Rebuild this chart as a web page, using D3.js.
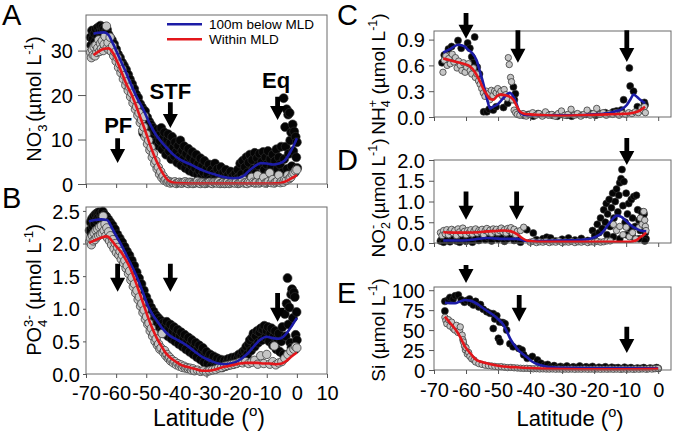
<!DOCTYPE html>
<html><head><meta charset="utf-8">
<script src="https://cdn.jsdelivr.net/npm/d3@7"></script>
<style>
body{margin:0;background:#fff}
svg{display:block}
text{font-family:"Liberation Sans",Arial,Helvetica,sans-serif}
</style>
</head><body>
<svg id="chart" width="677" height="437"></svg>
<script>
// ---------------- DATA ----------------
const latTicksAB = [-70,-60,-50,-40,-30,-20,-10,0,10];
const latTicksCDE = [-70,-60,-50,-40,-30,-20,-10,0];
const aYTicks = [0,10,20,30];
const bYTicks = [0,0.5,1.0,1.5,2.0,2.5];
const cYTicks = [0,0.3,0.6,0.9];
const dYTicks = [0,0.5,1.0,1.5,2.0];
const eYTicks = [0,25,50,75,100];
const legendLabels = ["100m below MLD","Within MLD"];
const frontLabels = [["PF",-59.3,11.5],["STF",-42,19.1],["Eq",-6.9,21.6]];

// Panel A: NO3-
const aBelowPts = [[-68.5,33],[-68.3,31.2],[-68,34.5],[-67.8,32.6],[-67.5,30.8],[-67.2,33.8],[-67,32],[-66.7,34.8],[-66.5,31],[-66.2,33.3],[-66,35.2],[-65.7,32.4],[-65.5,34.2],[-65.2,35.6],[-65,33],[-64.7,34.6],[-64.5,35.3],[-64.2,33.6],[-64,34.9],[-63.7,32.8],[-63.5,34.2],[-63.2,33.1],[-63,34.7],[-62.7,32.3],[-62.5,33.6],[-62.2,31.8],[-62,32.9],
[-61.7,31.2],[-61.4,32.4],[-61,30.6],[-60.7,31.5],[-60.4,29.4],[-60,30.3],[-59.7,28.2],[-59.4,29.2],[-59,27.4],[-58.7,28.4],[-58.4,26.2],[-58,27.3],[-57.7,25.4],[-57.4,26.6],[-57,24.6],[-56.7,25.7],[-56.4,23.3],[-56,24.6],[-55.7,22.2],[-55.4,23.5],[-55,21.4],
[-54.7,22.5],[-54.4,20.6],[-54,21.4],[-53.7,19.2],[-53.4,20.2],[-53,18.3],[-52.7,19.4],[-52.4,17.2],[-52,18.0],[-51.7,16.1],[-51.4,17.2],[-51,11.4],[-50.7,15.3],[-50.4,16.4],[-50,14.2],[-49.7,15.0],[-49.4,12.9],[-49,14.0],[-48.7,12.0],[-48.4,13.3],[-48,11.2],
[-47.7,12.6],[-47.4,10.4],[-47,11.8],[-46.7,9.4],[-46.4,12.2],[-46,8.6],[-45.7,10.9],[-45.4,9.7],[-45,12.6],[-44.7,7.8],[-44.4,10.3],[-44,11.6],[-43.7,8.7],[-43.4,6.6],[-43,10.0],[-42.7,11.2],[-42.4,7.4],[-42,9.2],[-41.7,5.6],[-41.4,10.6],[-41,8.2],[-40.7,6.3],[-40.4,9.4],[-40,7.2],[-39.7,4.8],[-39.4,8.6],[-39,6.2],[-38.7,9.8],[-38.4,4.2],[-38,7.5],[-37.7,5.6],[-37.4,8.5],[-37,3.6],[-36.7,6.8],[-36.4,4.8],[-36,7.9],[-35.7,3.0],[-35.4,6.0],[-35,4.2],[-34.7,7.2],[-34.4,2.6],[-34,5.3],[-33.7,3.6],[-33.4,6.6],[-33,2.2],[-32.7,4.6],[-32.4,3.0],[-32,5.8],[-31.7,1.6],[-31.4,4.0],[-31,2.6],[-30.7,5.2],[-30.4,1.2],[-30,3.4],
[-29.6,2.2],[-29.2,4.4],[-28.8,1.0],[-28.4,3.2],[-28,0.5],[-27.6,2.4],[-27.2,4.6],[-26.8,1.5],[-26.4,3.4],[-26,0.8],[-25.6,2.2],[-25.2,3.8],[-24.8,0.6],[-24.4,2.6],[-24,1.4],[-23.6,3.2],[-23.2,0.4],[-22.8,2.0],[-22.4,1.0],[-22,2.8],[-21.6,0.5],[-21.2,1.8],[-20.8,0.8],[-20.4,2.4],[-20,1.2],
[-19.6,3.2],[-19.2,1.6],[-18.8,4.6],[-18.4,2.2],[-18,5.2],[-17.6,1.2],[-17.2,3.8],[-16.8,6.0],[-16.4,2.6],[-16,4.8],[-15.6,6.6],[-15.2,1.8],[-14.8,5.4],[-14.4,3.4],[-14,7.0],[-13.6,2.4],[-13.2,5.8],[-12.8,4.2],[-12.4,6.8],[-12,1.6],[-11.6,5.0],[-11.2,7.2],[-10.8,3.2],[-10.4,6.0],[-10,4.4],[-9.6,7.4],[-9.2,2.6],[-8.8,5.6],[-8.4,3.8],[-8,6.6],[-7.6,2.0],[-7.2,5.2],[-6.8,7.8],[-6.4,3.4],[-6,6.0],[-5.6,4.4],[-5.2,8.4],[-4.8,2.6],
[-4.4,19.3],[-4.2,5.6],[-3.9,12.8],[-3.7,8.4],[-3.4,16.8],[-3.2,3.4],[-2.9,15.6],[-2.7,6.8],[-2.4,16.0],[-2.2,9.8],[-1.9,11.6],[-1.7,4.0],[-1.4,13.4],[-1.2,7.4],[-0.9,11.8],[-0.7,2.6],[-0.4,10.6],[-0.2,6.0],[0,9.4],[0.1,3.6]];
const aMldPts = [[-68.5,29.6],[-68.2,28.4],[-67.9,30.2],[-67.6,29.0],[-67.3,30.8],[-67,28.8],[-66.7,31.2],[-66.4,29.6],[-66.1,30.6],[-65.8,32.4],[-65.5,29.8],[-65.2,31.6],[-64.9,30.4],[-64.6,32.2],[-64.3,30.0],[-64,31.4],[-63.7,33.2],[-63.2,35.5],[-63,30.6],[-62.7,31.8],[-62.4,30.2],[-62,33.0],[-61.6,29.8],[-61.2,31.0],[-60.8,28.8],[-60.4,29.6],[-60,27.6],[-59.6,28.4],[-59.2,26.2],[-58.8,27.0],[-58.4,25.0],[-58,25.8],[-57.6,23.6],[-57.2,24.4],[-56.8,22.2],[-56.4,23.0],[-56,21.0],[-55.6,21.8],[-55.2,19.6],[-54.8,20.4],[-54.4,18.2],[-54,19.0],[-53.6,16.8],[-53.2,17.4],[-52.8,15.4],[-52.4,16.0],[-52,13.8],[-51.6,14.4],[-51.2,12.0],[-50.8,12.8],[-50.6,15.2],[-50.4,10.6],[-50,11.2],[-49.6,9.0],[-49.2,9.8],[-48.8,7.6],[-48.4,8.2],[-48,6.0],[-47.6,6.8],[-47.2,4.6],[-46.8,5.2],[-46.4,3.4],[-46,3.8],[-45.6,2.2],[-45.2,2.8],[-44.8,1.4],[-44.4,1.8],[-44,0.8],[-43.5,1.0],[-43,0.4],[-42.5,0.6],[-42,0.2],[-41.5,0.4],
[-41,0.3],[-40.5,0.5],[-40,0.1],[-39.5,0.3],[-39,0.4],[-38.5,0.2],[-38,0.2],[-37.5,0.4],[-37,0.5],[-36.5,0.2],[-36,0.1],[-35.5,0.4],[-35,0.3],[-34.5,0.1],[-34,0.2],[-33.5,0.3],[-33,0.6],[-32.5,0.2],[-32,0.1],[-31.5,0.4],[-31,0.3],[-30.5,0.1],[-30,0.2],[-29.5,0.3],[-29,0.4],[-28.5,0.2],[-28,0.1],[-27.5,0.4],[-27,0.3],[-26.5,0.2],[-26,0.5],[-25.5,0.1],[-25,0.2],[-24.5,0.3],[-24,0.1],[-23.5,0.2],[-23,0.4],[-22.5,0.1],[-22,0.2],[-21.5,0.4],[-21,0.3],[-20.5,0.2],[-20,0.6],[-19.5,0.1],[-19,0.2],[-18.5,0.4],[-18,1.0],[-17.5,0.2],[-17,0.3],[-16.5,0.1],[-16,0.5],[-15.5,0.3],[-15,1.5],[-14.5,0.4],[-14,0.2],[-13.5,0.3],[-13,2.0],[-12.5,0.2],[-12,0.4],[-11.5,0.6],[-11,1.5],[-10.5,0.2],[-10,0.3],[-9.5,0.5],[-9,2.5],[-8.5,0.3],[-8,1.0],[-7.5,0.2],[-7,0.4],[-6.5,0.6],[-6,2.0],[-5.5,0.3],[-5,0.6],[-4.5,0.4],[-4,1.0],[-3.5,0.8],[-3,2.0],[-2.5,1.2],[-2,1.5],[-1.5,2.2],[-1,2.5],[-0.5,3.0],[0,3.2]];
const aBlueLine = [[-67.5,33.8],[-66,34.0],[-64,34.1],[-62.5,33.5],[-61,31.5],[-59,28.5],[-57,25.5],[-55,22.3],[-53,19.3],[-51,16.8],[-49,13.8],[-47,11.3],[-45,9.5],[-43,8.0],[-41,6.6],[-39,5.6],[-37,4.9],[-35,4.3],[-33,3.6],[-31,3.0],[-29,2.5],[-27,2.1],[-25,1.7],[-23,1.4],[-21,1.3],[-19,1.4],[-17.5,1.9],[-16,2.9],[-14,4.0],[-12,4.7],[-10,4.6],[-8,4.4],[-6,4.6],[-4,5.3],[-2.5,6.8],[-1,8.7],[0,10.3]];
const aRedLine = [[-67.5,29.0],[-66,29.7],[-64,30.4],[-62.5,30.5],[-61,29.4],[-59.5,27.3],[-58,24.8],[-56.5,22.3],[-55,20.3],[-53.5,17.8],[-52,15],[-50.5,12.3],[-49,9.3],[-47.5,6.6],[-46,4.3],[-44.5,2.4],[-43,1.0],[-41.5,0.4],[-40,0.2],[-35,0.1],[-30,0.1],[-25,0.1],[-20,0.1],[-15,0.1],[-10,0.1],[-7,0.15],[-5,0.3],[-3,0.8],[-1.5,1.4],[0,2.0]];
const aArrows = [[-59.5,10.3,4.7],[-42,18.4,12.6],[-6.4,19.6,14.4]];

// Panel B: PO4 3-
const bBelowPts = [[-68.8,2.20],[-68.5,2.33],[-68.2,2.12],[-68,2.38],[-67.7,2.26],[-67.4,2.42],[-67.1,2.30],[-66.8,2.45],[-66.5,2.36],[-66.2,2.47],[-65.9,2.40],[-65.6,2.48],[-65.3,2.38],[-65,2.46],[-64.7,2.41],[-64.4,2.49],[-64.1,2.36],[-63.8,2.44],[-63.5,2.32],[-63.2,2.41],[-62.9,2.28],[-62.6,2.37],[-62.3,2.25],[-62,2.33],
[-61.6,2.22],[-61.2,2.28],[-60.8,2.15],[-60.4,2.22],[-60,2.08],[-59.6,2.14],[-59.2,2.02],[-58.8,2.08],[-58.4,1.96],[-58,2.02],[-57.6,1.90],[-57.2,1.95],[-56.8,1.84],[-56.4,1.88],[-56,1.78],[-55.6,1.82],[-55.2,1.70],[-54.8,1.74],[-54.4,1.62],[-54,1.66],[-53.6,1.54],[-53.2,1.56],[-52.8,1.45],[-52.4,1.47],[-52,1.36],[-51.6,1.38],[-51.2,1.26],[-50.8,1.28],[-50.4,1.16],[-50,1.18],[-49.6,1.07],[-49.2,1.10],[-48.8,0.98],[-48.4,1.02],[-48,0.90],[-47.6,0.96],[-47.2,0.84],[-46.8,0.90],[-46.4,0.78],[-46,0.86],
[-45.6,0.72],[-45.2,0.82],[-44.8,0.66],[-44.4,0.78],[-44,0.62],[-43.6,0.74],[-43.2,0.80],[-42.8,0.58],[-42.4,0.70],[-42,0.76],[-41.6,0.54],[-41.2,0.66],[-40.8,0.72],[-40.4,0.50],[-40,0.62],[-39.6,0.68],[-39.2,0.46],[-38.8,0.58],[-38.4,0.64],[-38,0.42],[-37.6,0.54],[-37.2,0.60],[-36.8,0.38],[-36.4,0.50],[-36,0.56],[-35.6,0.34],[-35.2,0.46],[-34.8,0.52],[-34.4,0.30],[-34,0.42],[-33.6,0.48],[-33.2,0.26],[-32.8,0.38],[-32.4,0.44],[-32,0.22],[-31.6,0.34],[-31.2,0.40],[-30.8,0.18],[-30.4,0.30],[-30,0.34],[-29.6,0.16],[-29.2,0.26],[-28.8,0.30],[-28.4,0.12],[-28,0.22],[-27.6,0.27],[-27.2,0.10],[-26.8,0.20],[-26.4,0.24],[-26,0.12],[-25.6,0.18],[-25.2,0.22],[-24.8,0.10],[-24.4,0.17],[-24,0.21],[-23.6,0.12],[-23.2,0.18],[-22.8,0.23],[-22.4,0.14],[-22,0.20],[-21.6,0.25],[-21.2,0.15],[-20.8,0.21],[-20.4,0.26],[-20,0.17],[-19.6,0.24],[-19.2,0.30],[-18.8,0.20],
[-18.4,0.28],[-18,0.34],[-17.6,0.24],[-17.2,0.36],[-16.8,0.42],[-16.4,0.30],[-16,0.46],[-15.6,0.52],[-15.2,0.36],[-14.8,0.56],[-14.4,0.62],[-14,0.42],[-13.6,0.58],[-13.2,0.66],[-12.8,0.48],[-12.4,0.64],[-12,0.70],[-11.6,0.52],[-11.2,0.68],[-10.8,0.74],[-10.4,0.56],[-10,0.66],[-9.6,0.72],[-9.2,0.50],[-8.8,0.62],[-8.4,0.70],[-8,0.44],[-7.6,0.58],[-7.2,0.66],[-6.8,0.38],[-6.4,0.54],[-6,0.62],[-5.6,0.34],[-5.2,0.50],[-4.8,0.72],[-4.4,0.30],
[-4,0.92],[-3.7,0.58],[-3.4,1.08],[-3.1,1.47],[-2.8,0.76],[-2.5,1.02],[-2.2,0.48],[-1.9,1.22],[-1.6,1.30],[-1.3,0.86],[-1,1.25],[-0.7,1.18],[-0.4,0.60],[-0.1,0.95],[0,0.52],[-1.8,0.40],[-0.6,0.38]];
const bMldPts = [[-68.8,2.03],[-68.5,2.08],[-68.2,1.98],[-67.9,2.12],[-67.6,2.04],[-67.3,2.16],[-67,2.06],[-66.7,2.20],[-66.4,2.10],[-66.1,2.22],[-65.8,2.12],[-65.5,2.25],[-65.2,2.14],[-64.9,2.27],[-64.6,2.16],[-64.3,2.42],[-64,2.20],[-63.7,2.30],[-63.4,2.12],[-63.1,2.24],[-62.8,2.08],[-62.5,2.18],[-62.2,2.04],[-61.9,2.12],[-61.5,1.98],[-61.1,2.06],[-60.7,1.92],[-60.3,2.00],[-59.9,1.86],[-59.5,1.94],[-59.1,1.82],[-58.7,1.88],[-58.3,1.76],[-57.9,1.82],[-57.5,1.70],[-57.1,1.74],[-56.7,1.62],[-56.3,1.66],[-55.9,1.54],[-55.5,1.58],[-55.1,1.44],[-54.7,1.48],[-54.3,1.34],[-53.9,1.38],[-53.5,1.24],[-53.1,1.28],[-52.7,1.14],[-52.3,1.18],[-51.9,1.04],[-51.5,1.08],[-51.1,0.94],[-50.7,0.98],[-50.3,0.84],[-49.9,0.88],[-49.5,0.76],[-49.1,0.78],[-48.7,0.66],[-48.3,0.70],[-47.9,0.58],[-47.5,0.62],[-47.1,0.50],[-46.7,0.54],[-46.3,0.44],[-45.9,0.46],[-45.5,0.38],[-45.1,0.40],[-44.7,0.62],[-44.3,0.33],[-43.9,0.36],[-43.5,0.28],[-43.1,0.30],[-42.7,0.24],[-42.3,0.26],[-41.9,0.20],[-41.5,0.22],[-41,0.17],[-40.5,0.19],[-40,0.14],[-39.5,0.16],[-39,0.12],[-38.5,0.14],[-38,0.10],[-37.5,0.12],[-37,0.09],[-36.5,0.10],[-36,0.08],[-35.5,0.09],[-35,0.06],[-34.5,0.08],[-34,0.05],[-33,0.06],[-32,0.04],[-31,0.05],[-30,0.03],[-29,0.05],[-28,0.06],[-27,0.07],[-26,0.09],[-25,0.10],[-24,0.12],[-23,0.13],[-22,0.14],[-21,0.15],[-20,0.16],[-19,0.18],[-18,0.17],[-17,0.19],[-16,0.16],[-15,0.18],[-14,0.21],[-13,0.15],[-12,0.28],[-11,0.16],[-10,0.30],[-9,0.15],[-8,0.19],[-7.5,0.43],[-7,0.14],[-6,0.17],[-5,0.19],[-4,0.24],[-3,0.30],[-2,0.35],[-1,0.38],[-0.5,0.42],[0,0.40]];
const bBlueLine = [[-69,2.34],[-67,2.36],[-65,2.37],[-63,2.36],[-61.5,2.25],[-60,2.12],[-58.5,2.0],[-57,1.86],[-55.5,1.72],[-54,1.58],[-52.5,1.42],[-51,1.24],[-49.5,1.05],[-48,0.92],[-46.5,0.82],[-45,0.72],[-43.5,0.64],[-42,0.58],[-40,0.53],[-38,0.48],[-36,0.42],[-34,0.35],[-32,0.28],[-30,0.23],[-28,0.19],[-26,0.16],[-24,0.15],[-22,0.16],[-20,0.19],[-18,0.25],[-16,0.33],[-14,0.44],[-12,0.53],[-10,0.57],[-8,0.55],[-6,0.54],[-4.5,0.57],[-3,0.65],[-1.5,0.75],[0,0.86]];
const bRedLine = [[-69,2.01],[-67,2.05],[-65,2.09],[-63,2.11],[-61.5,2.05],[-60,1.96],[-58.5,1.88],[-57,1.77],[-55.5,1.64],[-54,1.47],[-52.5,1.28],[-51,1.08],[-49.5,0.88],[-48,0.70],[-46.5,0.55],[-45,0.43],[-43.5,0.32],[-42,0.25],[-40.5,0.2],[-38.5,0.14],[-36.5,0.11],[-34,0.08],[-31.5,0.05],[-29.5,0.05],[-27,0.07],[-25,0.1],[-23,0.12],[-21,0.14],[-19,0.16],[-17,0.17],[-15,0.17],[-13,0.17],[-11,0.16],[-9,0.16],[-7,0.15],[-5,0.16],[-3.5,0.2],[-2,0.26],[0,0.33]];
const bArrows = [[-59.5,1.69,1.26],[-42,1.69,1.26],[-6.4,1.24,0.80]];

// Panel C: NH4+
const cBelowPts = [[-67.5,0.63],[-66.8,0.72],[-65.5,0.79],[-64.5,0.82],[-62.5,0.89],[-61.5,0.8],[-59.5,0.86],[-58.8,0.80],[-58.2,0.7],[-57.3,0.93],[-57.7,0.63],[-56.5,0.58],[-55.8,0.5],[-54.5,0.06],[-53.5,0.06],[-52.8,0.09],[-51.5,0.08],[-50.6,0.12],[-48.3,0.11],[-47,0.16],[-45.2,0.35],[-44.6,0.27],[-44.9,0.2],[-43.8,0.04],[-42,0.02],[-40.5,0.03],[-39,0.01],[-37.5,0.04],[-36,0.02],[-34.5,0.03],[-33,0.02],[-31.5,0.01],[-30,0.03],[-28.5,0.02],[-27,0.01],[-25.5,0.03],[-24,0.02],[-22.5,0.03],[-21,0.04],[-19.5,0.02],[-18,0.04],[-16.5,0.05],[-15,0.04],[-14,0.06],[-13,0.07],[-12,0.06],[-11.5,0.08],[-10.8,0.2],[-8.75,0.36],[-7.7,0.3],[-9.0,0.57],[-6.5,0.12],[-5,0.08],[-4.3,0.17],[-4.1,0.14]];
const cMldPts = [[-67.2,0.52],[-66.8,0.66],[-66.3,0.71],[-65.9,0.6],[-65.4,0.68],[-64.9,0.62],[-64.3,0.73],[-63.8,0.64],[-63.3,0.69],[-62.8,0.57],[-62.3,0.65],[-61.8,0.6],[-61.3,0.54],[-60.8,0.63],[-60.3,0.52],[-59.8,0.58],[-59.2,0.62],[-58.7,0.54],[-58.2,0.5],[-57.7,0.57],[-57.1,0.46],[-56.6,0.5],[-56.1,0.42],[-55.6,0.38],[-55.1,0.33],[-54.6,0.28],[-54.1,0.24],[-53.6,0.3],[-53.1,0.27],[-52.6,0.2],[-52.1,0.31],[-51.6,0.25],[-51.1,0.3],[-50.6,0.28],[-50.1,0.33],[-49.6,0.27],[-49.1,0.3],[-48.6,0.24],[-48.1,0.32],[-47.6,0.26],[-47.1,0.22],[-46.8,0.69],[-46.5,0.61],[-46.1,0.46],[-45.8,0.41],[-45.5,0.2],[-45,0.08],[-44.5,0.05],[-44,0.03],[-43.2,0.02],[-42.2,0.04],[-41.2,0.01],[-40.2,0.03],[-39.2,0.05],[-38.2,0.02],[-37.2,0.04],[-36.2,0.01],[-35.2,0.06],[-34.2,0.02],[-33.2,0.03],[-32.2,0.01],[-31.2,0.04],[-30.2,0.07],[-29.2,0.02],[-28.2,0.03],[-27.2,0.09],[-26.2,0.02],[-25.2,0.04],[-24.2,0.01],[-23.2,0.03],[-22.2,0.08],[-21.2,0.02],[-20.2,0.04],[-19.2,0.1],[-18.2,0.03],[-17.2,0.05],[-16.2,0.02],[-15.2,0.04],[-14.2,0.03],[-13.2,0.05],[-12.2,0.02],[-11.2,0.04],[-10.2,0.03],[-9.2,0.05],[-8.2,0.04],[-7.2,0.06],[-6.2,0.05],[-5.2,0.1],[-4.7,0.08],[-4.3,0.12],[-4.0,0.05]];
const cBlueLine = [[-67.1,0.75],[-65,0.79],[-62.4,0.84],[-60.5,0.82],[-59.3,0.78],[-58,0.74],[-56.7,0.66],[-55.6,0.52],[-54.6,0.39],[-53.5,0.22],[-52.5,0.10],[-51.5,0.12],[-50.4,0.14],[-48.3,0.22],[-46.3,0.28],[-44.7,0.2],[-43.1,0.05],[-41,0.02],[-35,0.02],[-30,0.02],[-25,0.02],[-20,0.03],[-15,0.05],[-12.9,0.07],[-11.5,0.09],[-9.8,0.14],[-8.6,0.21],[-7.7,0.26],[-6.5,0.23],[-5.6,0.2],[-4.1,0.16]];
const cRedLine = [[-67.1,0.68],[-65,0.66],[-62.9,0.64],[-60.8,0.62],[-58.8,0.59],[-57.2,0.52],[-55.6,0.41],[-54.5,0.32],[-53.5,0.26],[-52.5,0.21],[-51.5,0.20],[-50.4,0.24],[-49.4,0.26],[-47.3,0.25],[-45.2,0.2],[-44.2,0.13],[-43.1,0.06],[-41.5,0.035],[-40,0.03],[-35,0.02],[-30,0.015],[-25,0.02],[-20,0.025],[-16,0.03],[-12,0.035],[-9,0.04],[-7.7,0.05],[-6,0.07],[-4.1,0.12]];
const cArrows = [[-60,1.21,0.91],[-43.8,1.01,0.63],[-9.8,1.01,0.64]];

// Panel D: NO2-
const dBelowPts = [[-68,0.05],[-67.5,0.1],[-67,0.02],[-66,0.08],[-65,0.03],[-64,0.12],[-63,0.05],[-62,0.02],[-61,0.1],[-60,0.04],[-59,0.07],[-58,0.02],[-57,0.12],[-56,0.06],[-55,0.15],[-54,0.08],[-53,0.13],[-52,0.05],[-51,0.14],[-50,0.09],[-49,0.12],[-48,0.04],[-47,0.1],[-46,0.13],[-45,0.06],[-44,0.08],[-43,0.02],[-41,0.32],[-39,0.24],[-38,0.08],[-36,0.1],[-34.8,0.14],[-33.6,0.12],[-32,0.05],[-30,0.09],[-28,0.12],[-26,0.07],[-24,0.11],[-22,0.06],
[-20.5,0.3],[-19.8,0.18],[-19,0.45],[-18.5,0.25],[-18,0.6],[-17.5,0.35],[-17,0.8],[-16.5,0.5],[-16.2,0.95],[-15.8,0.7],[-15.3,1.05],[-15,0.4],[-14.6,0.85],[-14.2,1.2],[-13.8,0.6],[-13.4,1.0],[-13,1.3],[-12.6,0.75],[-12.3,1.15],[-12,1.45],[-11.6,1.55],[-11.3,1.77],[-11,0.9],[-10.7,1.48],[-10.3,0.5],[-10,1.2],[-9.6,0.7],[-9.2,0.95],[-8.8,0.35],[-8.4,1.05],[-8,0.6],[-7.6,1.12],[-7.2,0.4],[-6.8,1.15],[-6.4,0.8],[-6,0.55],[-5.6,0.3],[-5.2,0.75],[-4.8,0.5],[-4.4,0.7],[-4,0.25],[-3.8,0.1],[-4.2,0.05],[-14,0.15],[-12,0.1],[-10,0.2],[-8,0.15],[-6,0.1],[-16,0.2]];
const dMldPts = [[-68,0.25],[-67.5,0.18],[-67,0.3],[-66.5,0.22],[-66,0.32],[-65.5,0.2],[-65,0.28],[-64.5,0.33],[-64,0.24],[-63.5,0.3],[-63,0.18],[-62.5,0.34],[-62,0.27],[-61.5,0.22],[-61,0.36],[-60.5,0.28],[-60,0.2],[-59.5,0.3],[-59,0.25],[-58.5,0.32],[-58,0.22],[-57.5,0.29],[-57,0.34],[-56.5,0.24],[-56,0.3],[-55.5,0.27],[-55,0.33],[-54.5,0.2],[-54,0.3],[-53.5,0.35],[-53,0.26],[-52.5,0.31],[-52,0.23],[-51.5,0.34],[-51,0.28],[-50.5,0.33],[-50,0.25],[-49.5,0.3],[-49,0.36],[-48.5,0.27],[-48,0.32],[-47.5,0.24],[-47,0.35],[-46.5,0.3],[-46,0.37],[-45.5,0.25],[-45,0.33],[-44.5,0.2],[-44,0.28],[-43,0.3],[-42,0.38],
[-40,0.02],[-39,0.04],[-38,0.01],[-37,0.03],[-36,0.02],[-35,0.04],[-34,0.01],[-33,0.03],[-32,0.02],[-31,0.05],[-30,0.01],[-29,0.03],[-28,0.02],[-27,0.04],[-26,0.01],[-25,0.03],[-24,0.02],[-23,0.04],[-22,0.01],[-21,0.03],[-20,0.02],[-19,0.04],[-18,0.02],[-17,0.03],[-16,0.05],
[-15,0.05],[-14,0.45],[-13,0.3],[-12,0.4],[-11,0.2],[-10,0.38],[-9,0.15],[-8,0.25],[-7,0.1],[-6,0.37],[-5.6,0.6],[-5,0.45],[-4.5,0.76],[-4.2,0.55],[-4,0.4],[-3.8,0.3]];
const dBlueLine = [[-67.1,0.06],[-64,0.06],[-60.8,0.06],[-57,0.09],[-53.5,0.12],[-51,0.11],[-48.3,0.1],[-44.2,0.1],[-42.5,0.07],[-41,0.05],[-36,0.05],[-30,0.06],[-25,0.07],[-21.3,0.1],[-19.5,0.15],[-17.6,0.24],[-15.8,0.42],[-14,0.6],[-12.9,0.66],[-11.5,0.63],[-10,0.53],[-8.75,0.44],[-7.2,0.36],[-5.6,0.3],[-3.75,0.28]];
const dRedLine = [[-67.1,0.26],[-64,0.25],[-60,0.25],[-56,0.26],[-53.5,0.28],[-50.5,0.29],[-48.3,0.3],[-46,0.28],[-44.2,0.22],[-42.5,0.12],[-41,0.06],[-38.5,0.035],[-36.9,0.03],[-30,0.03],[-20,0.03],[-12,0.03],[-8.75,0.03],[-7,0.06],[-5.6,0.14],[-4.5,0.2],[-3.75,0.25]];
const dArrows = [[-60,1.24,0.56],[-44.2,1.24,0.56],[-9.8,2.53,1.88]];

// Panel E: Si
const eBelowPts = [[-66.6,86],[-66.6,74],[-65.5,88],[-65,91],[-64,89],[-63.4,93],[-62.4,94],[-61.5,88],[-60.5,85],[-59.8,87],[-58.9,89],[-58.5,84],[-57.7,81.5],[-57,86],[-56,79],[-55.5,82],[-54.6,76],[-53.5,73],[-52.5,71],[-51.5,70.6],[-50.4,68],[-51,64],[-49.5,60],[-48.5,59.5],[-47.8,58],[-47.3,50],[-51.5,52],[-49.9,39.7],[-49.4,35.5],[-46.3,33],[-45.3,29],[-43.5,27],[-42.5,25],[-42,19],[-40.9,14.6],[-39.3,17],[-37.7,12.5],[-36.6,8.4],[-35.5,6],[-34.5,7],[-33.5,4],[-32.5,5.5],[-31.5,3],[-30.5,4.5],[-29.5,3],[-28.5,5],[-27.5,2.5],[-26.5,4],[-25.5,3],[-24.5,5],[-23.5,2.5],[-22.5,4],[-21.5,3],[-20.5,4.5],[-19.5,2],[-18.5,3.5],[-17.5,2.5],[-16.5,4],[-15.5,2],[-14.5,3.5],[-13.5,2.5],[-12.5,3],[-11.5,1.5],[-10.5,3.5],[-9.5,2],[-8.5,3],[-7.5,1.5],[-6.5,2.5],[-5.5,2],[-4.5,3],[-3.5,1.5],[-2.5,2.5],[-1.5,2],[-0.5,3],[0,2]];
const eMldPts = [[-66.6,66],[-66.3,62],[-66,58],[-65.5,63],[-65,55],[-64.5,60],[-64,52],[-63.5,50],[-63,56],[-62.5,47],[-62,49.7],[-61.8,54],[-61.2,43.7],[-61,38],[-60.8,35],[-60.5,30],[-60.2,25],[-60,28],[-59.6,20],[-59.2,22],[-58.8,17],[-58.2,14],[-57.5,12.5],[-57,10],[-56,8],[-55,7],[-54,6],[-53,5.5],[-52,5],[-51,4.5],[-50,4],[-49,4.2],[-48,3.5],[-47,3],[-46,3.2],[-45,2.8],[-44,2.5],[-43,2.2],[-42,2],[-41,2.1],[-40,1.8],[-39,1.5],[-38,1.6],[-37,1.3],[-36,1.4],[-35,1.2],[-34,1.1],[-33,1.3],[-32,1.0],[-31,1.2],[-30,0.9],[-29,1.1],[-28,1.0],[-27,1.2],[-26,0.9],[-25,1.1],[-24,1.0],[-23,1.2],[-22,0.9],[-21,1.1],[-20,1.0],[-19,1.2],[-18,0.9],[-17,1.1],[-16,1.0],[-15,1.2],[-14,0.9],[-13,1.1],[-12,1.0],[-11,1.2],[-10,0.9],[-9,1.1],[-8,1.0],[-7,1.2],[-6,1.0],[-5,1.3],[-4,1.1],[-3,1.4],[-2,1.2],[-1,1.6],[0,1.8]];
const eBlueLine = [[-66.6,84.3],[-65,83.8],[-63.4,83.6],[-61.8,86],[-60.3,87.7],[-59,87.2],[-57.7,85.6],[-56,81.5],[-54.6,77.3],[-53,73],[-51.5,68.9],[-49.8,63],[-48.3,56.4],[-47.2,48],[-46.25,39.7],[-45,31.5],[-43.7,25],[-42.3,20],[-41,15.9],[-39.5,11],[-37.9,7.5],[-35.5,4.8],[-32.7,3.4],[-28,2.8],[-20,2.5],[-10,2.3],[0,2.2]];
const eRedLine = [[-66.6,66.8],[-65.2,60],[-64,54.3],[-62.8,48],[-61.9,41.7],[-61,34.5],[-60.3,29.2],[-59.2,23.5],[-58.2,18.8],[-57.4,15],[-56.7,12.5],[-55,10],[-53.5,8.4],[-51.5,6.5],[-49.4,5],[-47,4],[-44.2,3.4],[-40,2.3],[-36.9,1.7],[-30,1.2],[-20,1],[-10,1],[-3,1.1],[0,1.5]];
const eArrows = [[-60,131.6,109],[-43.4,94,60.5],[-9.8,54.3,21.3]];

// ---------------- DRAW ----------------
const svg = d3.select("#chart");
const FONT = '"Liberation Sans",Arial,Helvetica,sans-serif';
const BLUE = "#1c1ca6", RED = "#e3161b";

const xAB = d3.scaleLinear().domain([-70,10]).range([86,327]);
const xCDE = d3.scaleLinear().domain([-70,4]).range([434,671]);

function rich(sel, parts, fs) {
  let cur = 0;
  parts.forEach(([t,k]) => {
    const small = k !== 0;
    const target = k===0 ? 0 : (k===1 ? 0.28*fs : -0.42*fs);
    const ts = sel.append("tspan").text(t).attr("font-size", small ? fs*0.66 : fs);
    if (target - cur !== 0) ts.attr("dy", target - cur);
    if (k === 3) ts.attr("dx", -0.556*0.66*fs);
    cur = target;
  });
}

function arrow(g, x, yTop, yTip) {
  const hh = 14, hw = 7.5, sw = 2.4;
  const yb = yTip - hh;
  const p = d3.path();
  p.moveTo(x-sw, yTop); p.lineTo(x+sw, yTop); p.lineTo(x+sw, yb); p.lineTo(x+hw, yb);
  p.lineTo(x, yTip); p.lineTo(x-hw, yb); p.lineTo(x-sw, yb); p.closePath();
  g.append("path").attr("d", p.toString()).attr("fill", "#000");
}

function drawPanel(p) {
  const g = svg.append("g");
  const [x0,x1] = p.x.range();
  const [yb,yt] = p.y.range();
  g.append("g").selectAll("circle").data(p.below).join("circle")
    .attr("cx", d=>p.x(d[0])).attr("cy", d=>p.y(d[1])).attr("r", p.r)
    .attr("fill", "#050505").attr("stroke", "#333").attr("stroke-width", 0.6);
  g.append("g").selectAll("circle").data(p.mld).join("circle")
    .attr("cx", d=>p.x(d[0])).attr("cy", d=>p.y(d[1])).attr("r", p.r-0.3)
    .attr("fill", "#c6c6c6").attr("stroke", "#3c3c3c").attr("stroke-width", 0.8);
  const line = d3.line().x(d=>p.x(d[0])).y(d=>p.y(d[1])).curve(d3.curveMonotoneX);
  g.append("path").attr("d", line(p.blue)).attr("fill","none").attr("stroke",BLUE).attr("stroke-width",2.6);
  g.append("path").attr("d", line(p.red)).attr("fill","none").attr("stroke",RED).attr("stroke-width",2.6);
  g.append("rect").attr("x",x0).attr("y",yt).attr("width",x1-x0).attr("height",yb-yt)
    .attr("fill","none").attr("stroke","#6a6a6a").attr("stroke-width",1);
  const ya = g.append("g").attr("transform",`translate(${x0},0)`)
    .call(d3.axisLeft(p.y).tickValues(p.yTicks).tickSize(p.yTick).tickPadding(p.yPad).tickFormat(p.fmt));
  ya.select(".domain").remove();
  ya.selectAll("line").attr("stroke","#555");
  ya.selectAll("text").attr("font-size",20).attr("font-family",FONT).attr("fill","#000").attr("dy","0.36em");
  const xa = g.append("g").attr("transform",`translate(0,${yb})`)
    .call(d3.axisBottom(p.x).tickValues(p.xTicks).tickSize(4).tickFormat(p.xLabels ? (d=>String(d)) : ""));
  xa.select(".domain").remove();
  xa.selectAll("line").attr("stroke","#555");
  xa.selectAll("text").attr("font-size",20).attr("font-family",FONT).attr("fill","#000").attr("y",p.xLabY).attr("dy",null);
  p.arrows.forEach(a => arrow(g, p.x(a[0]), p.y(a[1]), p.y(a[2])));
  svg.append("text").attr("x",p.lx).attr("y",p.ly).attr("font-size",29).text(p.id);
  const t = svg.append("text").attr("transform",`translate(${p.tx},${p.ty}) rotate(-90)`)
    .attr("text-anchor","middle").attr("font-size",p.tfs);
  rich(t, p.title, p.tfs);
}

const panels = [
 {id:"A", x:xAB, y:d3.scaleLinear().domain([0,38]).range([184,15]), yTicks:aYTicks, fmt:d3.format("d"), yTick:8, yPad:5,
  xTicks:latTicksAB, xLabels:false, xLabY:26, below:aBelowPts, mld:aMldPts, blue:aBlueLine, red:aRedLine, arrows:aArrows, r:4.5,
  lx:2, ly:25, tx:41, ty:99, tfs:20, title:[["NO",0],["3",1],["-",3],[" (µmol L",0],["-1",2],[")",0]]},
 {id:"B", x:xAB, y:d3.scaleLinear().domain([0,2.56]).range([374,207]), yTicks:bYTicks, fmt:d3.format(".1f"), yTick:3, yPad:3,
  xTicks:latTicksAB, xLabels:true, xLabY:26, below:bBelowPts, mld:bMldPts, blue:bBlueLine, red:bRedLine, arrows:bArrows, r:4.5,
  lx:2, ly:208, tx:41, ty:290, tfs:20, title:[["PO",0],["4",1],["3-",3],[" (µmol L",0],["-1",2],[")",0]]},
 {id:"C", x:xCDE, y:d3.scaleLinear().domain([0,1.0]).range([117,31]), yTicks:cYTicks, fmt:d3.format(".1f"), yTick:5, yPad:4,
  xTicks:latTicksCDE, xLabels:false, xLabY:27, below:cBelowPts, mld:cMldPts, blue:cBlueLine, red:cRedLine, arrows:cArrows, r:3.5,
  lx:337, ly:25, tx:385, ty:74, tfs:19, title:[["NH",0],["4",1],["+",3],[" (µmol L",0],["-1",2],[")",0]]},
 {id:"D", x:xCDE, y:d3.scaleLinear().domain([0,2.0]).range([243,160]), yTicks:dYTicks, fmt:d3.format(".1f"), yTick:5, yPad:4,
  xTicks:latTicksCDE, xLabels:false, xLabY:27, below:dBelowPts, mld:dMldPts, blue:dBlueLine, red:dRedLine, arrows:dArrows, r:3.5,
  lx:337, ly:170, tx:385, ty:198, tfs:19, title:[["NO",0],["2",1],["-",3],[" (µmol L",0],["-1",2],[")",0]]},
 {id:"E", x:xCDE, y:d3.scaleLinear().domain([0,104]).range([370,287]), yTicks:eYTicks, fmt:d3.format("d"), yTick:5, yPad:4,
  xTicks:latTicksCDE, xLabels:true, xLabY:27, below:eBelowPts, mld:eMldPts, blue:eBlueLine, red:eRedLine, arrows:eArrows, r:3.5,
  lx:337, ly:303, tx:385, ty:330, tfs:19, title:[["Si (µmol L",0],["-1",2],[")",0]]}
];
panels.forEach(drawPanel);

// Legend in panel A
const legColors = [BLUE, RED];
const legY = [24.3, 39.3];
legendLabels.forEach((lab,i) => {
  svg.append("line").attr("x1",167).attr("x2",202).attr("y1",legY[i]).attr("y2",legY[i])
    .attr("stroke",legColors[i]).attr("stroke-width",2.6);
  svg.append("text").attr("x",209).attr("y",legY[i]+4.8).attr("font-size",13.5).text(lab);
});

// Front labels in panel A
const yA = panels[0].y;
frontLabels.forEach(f => {
  svg.append("text").attr("x",xAB(f[1])).attr("y",yA(f[2])).attr("text-anchor","middle")
    .attr("font-size",22).attr("font-weight","bold").text(f[0]);
});

// x titles
[[209, 426, 23],[570, 426, 22]].forEach(([cx,y,fs]) => {
  const t = svg.append("text").attr("x",cx).attr("y",y).attr("text-anchor","middle").attr("font-size",fs);
  rich(t, [["Latitude (",0],["o",2],[")",0]], fs);
});
</script>
</body></html>
